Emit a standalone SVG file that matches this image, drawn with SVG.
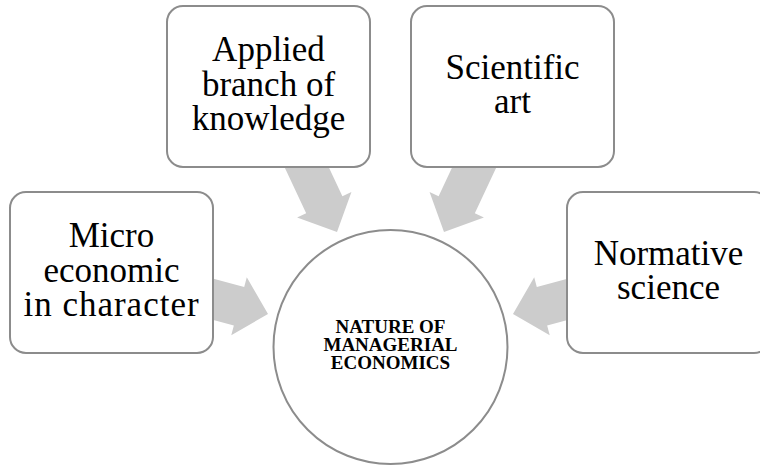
<svg xmlns="http://www.w3.org/2000/svg" width="760" height="465" viewBox="0 0 760 465">
<defs>
<style>
.box{fill:#ffffff;stroke:#8c8c8c;stroke-width:2}
.arr{fill:#cccccc;stroke:none}
.lbl{font-family:"Liberation Serif","Times New Roman",serif;font-size:35px;fill:#000000;text-anchor:middle}
.ctr{font-family:"Liberation Serif","Times New Roman",serif;font-size:19px;font-weight:bold;fill:#000000;text-anchor:middle}
</style>
<polygon id="arrowShape" class="arr" points="0,0 -30,-30 -30,-20 -80,-20 -80,20 -30,20 -30,30"/>
</defs>
<rect width="760" height="465" fill="#ffffff"/>
<g id="connectors">
<use href="#arrowShape" transform="translate(268,314) rotate(15)"/>
<use href="#arrowShape" transform="translate(513,314) rotate(165)"/>
<use href="#arrowShape" transform="translate(337,232) rotate(64.9)"/>
<use href="#arrowShape" transform="translate(444,232) rotate(115.1)"/>
</g>
<g id="center">
<circle class="box" cx="390.5" cy="347" r="117"/>
<text class="ctr"><tspan x="390.5" y="333">NATURE OF</tspan><tspan x="390.5" y="351">MANAGERIAL</tspan><tspan x="390.5" y="369">ECONOMICS</tspan></text>
</g>
<g id="micro">
<rect class="box" x="10" y="192" width="203" height="161" rx="16"/>
<text class="lbl"><tspan x="111.5" y="247">Micro</tspan><tspan x="111.5" y="281.5">economic</tspan><tspan x="111.5" y="316" letter-spacing="1">in character</tspan></text>
</g>
<g id="applied">
<rect class="box" x="167" y="6" width="203" height="161" rx="16"/>
<text class="lbl"><tspan x="268.5" y="61">Applied</tspan><tspan x="268.5" y="95.5">branch of</tspan><tspan x="268.5" y="130">knowledge</tspan></text>
</g>
<g id="scientific">
<rect class="box" x="411" y="6" width="203" height="161" rx="16"/>
<text class="lbl"><tspan x="512.5" y="78.5">Scientific</tspan><tspan x="512.5" y="113">art</tspan></text>
</g>
<g id="normative">
<rect class="box" x="567" y="192" width="203" height="161" rx="16"/>
<text class="lbl"><tspan x="668.5" y="264.5">Normative</tspan><tspan x="668.5" y="299">science</tspan></text>
</g>
</svg>
